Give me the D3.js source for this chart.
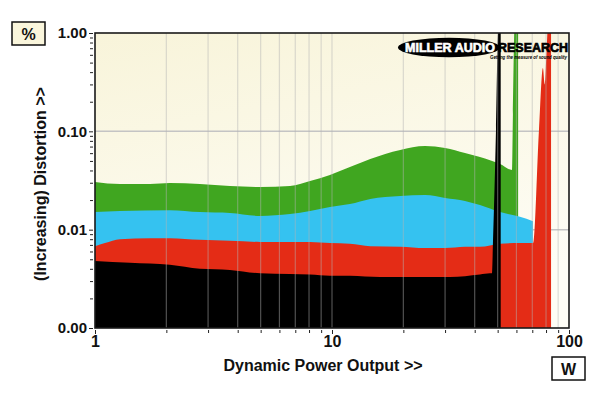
<!DOCTYPE html>
<html><head><meta charset="utf-8">
<script src="https://cdn.jsdelivr.net/npm/d3@7"></script>
<style>body{margin:0;background:#fff}svg{display:block}</style>
</head><body><svg id="c" width="600" height="393"></svg>
<script>
// ---- data (W, %) ----
const greenPower = [1, 1.275, 1.706, 2.07, 2.77, 3.71, 4.97, 6.65, 8.08, 9.8, 11.9, 14.5, 19.4, 24.7, 30.0, 36.4, 42.1, 51.2, 57.5, 58.0, 59.0, 61.0];
const greenDist  = [0.0305, 0.0291, 0.0291, 0.0298, 0.0291, 0.0278, 0.0272, 0.0278, 0.0312, 0.0360, 0.0434, 0.0523, 0.0646, 0.0710, 0.0677, 0.0602, 0.0548, 0.0465, 0.0404, 0.15, 1.3, 1.3];

const bluePower = [1, 1.275, 2.07, 2.77, 3.71, 4.97, 6.65, 8.08, 9.8, 11.9, 14.5, 19.4, 24.7, 30.0, 36.4, 42.1, 51.2, 62.1, 70.5];
const blueDist  = [0.0151, 0.0155, 0.0158, 0.0151, 0.0148, 0.0138, 0.0144, 0.0155, 0.0170, 0.0182, 0.0205, 0.0220, 0.0225, 0.0210, 0.0196, 0.0178, 0.0151, 0.0135, 0.0122];

const redPower = [1, 1.102, 1.275, 1.706, 2.07, 2.77, 3.71, 4.97, 6.65, 8.08, 9.8, 11.9, 14.5, 19.4, 24.7, 30.0, 36.4, 42.1, 51.2, 62.1, 70.5, 74.7, 77.6, 79.0, 80.8, 81.6, 84.0];
const redDist  = [0.0068, 0.0073, 0.0080, 0.0082, 0.0082, 0.0079, 0.0077, 0.0075, 0.0075, 0.0075, 0.0073, 0.0072, 0.0068, 0.0067, 0.0065, 0.0065, 0.0067, 0.0067, 0.0072, 0.0073, 0.0073, 0.103, 0.44, 0.30, 0.85, 1.3, 1.3];

const blackPower = [1, 1.405, 2.07, 2.77, 3.71, 4.97, 6.65, 8.08, 9.8, 11.9, 15.96, 23.5, 31.5, 42.1, 46.4, 47.3, 47.8, 49.2, 50.2, 51.5];
const blackDist  = [0.0048, 0.0046, 0.0044, 0.0040, 0.0039, 0.0036, 0.00354, 0.0035, 0.0034, 0.0034, 0.0033, 0.0033, 0.0033, 0.0035, 0.0036, 0.0036, 0.0078, 0.103, 1.0, 1.3];

const seriesColors = ["#40a620", "#35c2f0", "#e42c16", "#000000"];
const yTickValues = [0.001, 0.01, 0.1, 1];
const yTickLabels = ["0.00", "0.01", "0.10", "1.00"];
const xTickValues = [1, 10, 100];
const xTickLabels = ["1", "10", "100"];
const xTitle = "Dynamic Power Output >>";
const yTitle = "(Increasing) Distortion >>";

// ---- layout ----
const L = 95, R = 569, T = 33, B = 328;
const svg = d3.select("#c");
const FONT = "'Liberation Sans', Arial, sans-serif";

const x = d3.scaleLog().domain([1, 100]).range([L, R]);
const y = d3.scaleLog().domain([0.001, 1]).range([B, T]);

const defs = svg.append("defs");
const grad = defs.append("linearGradient").attr("id", "bg").attr("x1", 0).attr("y1", 0).attr("x2", 0.3).attr("y2", 1);
grad.append("stop").attr("offset", "0%").attr("stop-color", "#f8f4da");
grad.append("stop").attr("offset", "100%").attr("stop-color", "#fefdf6");
defs.append("clipPath").attr("id", "clip").append("rect")
  .attr("x", L).attr("y", T).attr("width", R - L).attr("height", B - T);

svg.append("rect").attr("x", L).attr("y", T).attr("width", R - L).attr("height", B - T).attr("fill", "url(#bg)");

// horizontal grid (behind)
svg.append("g").selectAll("line").data([0.01, 0.1]).join("line")
  .attr("x1", L).attr("x2", R).attr("y1", d => y(d)).attr("y2", d => y(d))
  .attr("stroke", "#c4c4c4").attr("stroke-width", 1.5);

// areas
const series = [
  [greenPower, greenDist],
  [bluePower, blueDist],
  [redPower, redDist],
  [blackPower, blackDist]
];
const area = d3.area()
  .x(d => x(d[0]))
  .y0(B)
  .y1(d => y(d[1]))
  .curve(d3.curveMonotoneX);
const plot = svg.append("g").attr("clip-path", "url(#clip)");
series.forEach((s, i) => {
  const pts = s[0].map((p, k) => [p, s[1][k]]);
  plot.append("path").attr("d", area(pts)).attr("fill", seriesColors[i]);
});

// vertical grid (over)
const vGrid = [2,3,4,5,6,7,8,9,10,20,30,40,50,60,70,80,90];
plot.append("g").selectAll("line").data(vGrid).join("line")
  .attr("x1", d => x(d)).attr("x2", d => x(d)).attr("y1", T).attr("y2", B)
  .attr("stroke", "rgba(180,180,180,0.45)").attr("stroke-width", 1.2);

// border
svg.append("rect").attr("x", L).attr("y", T).attr("width", R - L).attr("height", B - T)
  .attr("fill", "none").attr("stroke", "#1a1a1a").attr("stroke-width", 1.6);

// y axis ticks
const yMinor = [];
[0.001, 0.01, 0.1].forEach(d => { for (let k = 2; k <= 9; k++) yMinor.push(d * k); });
const yAxisMinor = d3.axisLeft(y).tickValues(yMinor).tickSize(3).tickFormat("");
svg.append("g").attr("transform", `translate(${L - 2},0)`).call(yAxisMinor)
  .call(g => g.select(".domain").remove())
  .call(g => g.selectAll("line").attr("stroke", "#222"));
const yAxisMajor = d3.axisLeft(y).tickValues(yTickValues).tickSize(4).tickPadding(2)
  .tickFormat((d, i) => yTickLabels[i]);
svg.append("g").attr("transform", `translate(${L - 2},0)`).call(yAxisMajor)
  .call(g => g.select(".domain").remove())
  .call(g => g.selectAll("line").attr("stroke", "#222"))
  .call(g => g.selectAll("text").attr("font-family", FONT).attr("font-weight", "bold")
    .attr("font-size", 15).attr("fill", "#111"));

// x axis ticks
const xMinor = [];
[1, 10].forEach(d => { for (let k = 2; k <= 9; k++) xMinor.push(d * k); });
const xAxisMinor = d3.axisBottom(x).tickValues(xMinor).tickSize(3).tickFormat("");
svg.append("g").attr("transform", `translate(0,${B + 2})`).call(xAxisMinor)
  .call(g => g.select(".domain").remove())
  .call(g => g.selectAll("line").attr("stroke", "#222"));
const xAxisMajor = d3.axisBottom(x).tickValues(xTickValues).tickSize(4).tickPadding(2)
  .tickFormat((d, i) => xTickLabels[i]);
svg.append("g").attr("transform", `translate(0,${B + 2})`).call(xAxisMajor)
  .call(g => g.select(".domain").remove())
  .call(g => g.selectAll("line").attr("stroke", "#222"))
  .call(g => g.selectAll("text").attr("font-family", FONT).attr("font-weight", "bold")
    .attr("font-size", 16).attr("fill", "#111"));

// titles
svg.append("text").attr("x", 323).attr("y", 371).attr("text-anchor", "middle")
  .attr("font-family", FONT).attr("font-weight", "bold").attr("font-size", 16).attr("fill", "#111")
  .text(xTitle);
svg.append("text").attr("transform", "translate(46,184) rotate(-90)").attr("text-anchor", "middle")
  .attr("font-family", FONT).attr("font-weight", "bold").attr("font-size", 16).attr("fill", "#111")
  .text(yTitle);

// unit boxes
svg.append("rect").attr("x", 12).attr("y", 22).attr("width", 33).attr("height", 23)
  .attr("fill", "#faf6dc").attr("stroke", "#111").attr("stroke-width", 1.5);
svg.append("text").attr("x", 28.5).attr("y", 40).attr("text-anchor", "middle")
  .attr("font-family", FONT).attr("font-weight", "bold").attr("font-size", 16).attr("fill", "#111").text("%");
svg.append("rect").attr("x", 552).attr("y", 357).attr("width", 33).attr("height", 23)
  .attr("fill", "#ffffff").attr("stroke", "#111").attr("stroke-width", 1.5);
svg.append("text").attr("x", 568.5).attr("y", 375).attr("text-anchor", "middle")
  .attr("font-family", FONT).attr("font-weight", "bold").attr("font-size", 16).attr("fill", "#111").text("W");

// logo
const logo = svg.append("g");
logo.append("ellipse").attr("cx", 449).attr("cy", 47.5).attr("rx", 51).attr("ry", 9.8).attr("fill", "#000");
logo.append("text").attr("x", 405).attr("y", 51.5).attr("textLength", 90).attr("lengthAdjust", "spacingAndGlyphs")
  .attr("font-family", FONT).attr("font-weight", "bold").attr("font-size", 12).attr("fill", "#fff")
  .attr("stroke", "#fff").attr("stroke-width", 0.6)
  .text("MILLER AUDIO");
logo.append("text").attr("x", 498).attr("y", 51.5).attr("textLength", 70).attr("lengthAdjust", "spacingAndGlyphs")
  .attr("font-family", FONT).attr("font-weight", "bold").attr("font-size", 13).attr("fill", "#000")
  .attr("stroke", "#000").attr("stroke-width", 0.7)
  .text("RESEARCH");
logo.append("text").attr("x", 490).attr("y", 58.5).attr("textLength", 77).attr("lengthAdjust", "spacingAndGlyphs")
  .attr("font-family", FONT).attr("font-weight", "bold").attr("font-style", "italic").attr("font-size", 6).attr("fill", "#000")
  .text("Getting the measure of sound quality");
</script>
</body></html>
